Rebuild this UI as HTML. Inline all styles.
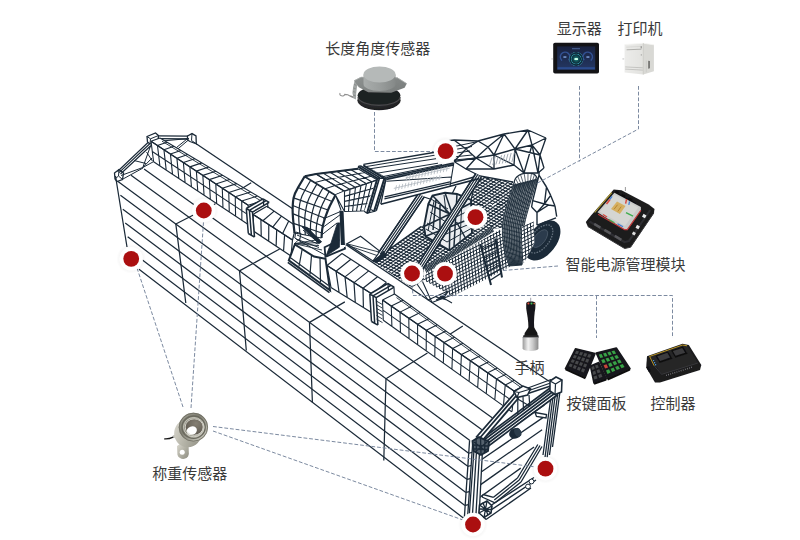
<!DOCTYPE html>
<html><head><meta charset="utf-8"><title>diagram</title>
<style>
html,body{margin:0;padding:0;background:#fff;}
body{width:800px;height:540px;overflow:hidden;font-family:"Liberation Sans",sans-serif;}
svg{display:block}
</style></head><body>
<svg width="800" height="540" viewBox="0 0 800 540" fill="none" stroke-linecap="butt" stroke-linejoin="miter">
<defs>
<radialGradient id="halo"><stop offset="0.75" stop-color="#000" stop-opacity="0.04"/><stop offset="1" stop-color="#000" stop-opacity="0"/></radialGradient>

<linearGradient id="gCyl" x1="0" x2="1" y1="0" y2="0"><stop offset="0" stop-color="#a9adac"/><stop offset="0.5" stop-color="#9a9e9d"/><stop offset="1" stop-color="#858988"/></linearGradient>
<linearGradient id="gFl" x1="0" x2="1" y1="0" y2="1"><stop offset="0" stop-color="#8d9190"/><stop offset="1" stop-color="#787c7b"/></linearGradient>
<radialGradient id="gBase" cx="0.45" cy="0.35" r="0.7"><stop offset="0" stop-color="#4a4b4d"/><stop offset="0.6" stop-color="#2a2b2d"/><stop offset="1" stop-color="#1a1a1c"/></radialGradient>
<linearGradient id="gScr" x1="0" x2="0" y1="0" y2="1"><stop offset="0" stop-color="#19223f"/><stop offset="1" stop-color="#243763"/></linearGradient>
<radialGradient id="gGauge"><stop offset="0" stop-color="#3fb59a"/><stop offset="0.3" stop-color="#155a60"/><stop offset="0.62" stop-color="#0d2f3c"/><stop offset="0.72" stop-color="#2f93a4"/><stop offset="0.8" stop-color="#0e2a3a"/><stop offset="0.93" stop-color="#123244"/><stop offset="1" stop-color="#3aa6b8"/></radialGradient>
<linearGradient id="gPrF" x1="0" x2="1" y1="0" y2="0"><stop offset="0" stop-color="#ececea"/><stop offset="1" stop-color="#e2e2df"/></linearGradient>
<linearGradient id="gSil" x1="0" x2="1" y1="0" y2="0"><stop offset="0" stop-color="#9b9b9b"/><stop offset="0.35" stop-color="#f2f2f2"/><stop offset="0.65" stop-color="#c9c9c9"/><stop offset="1" stop-color="#8a8a8a"/></linearGradient>
<linearGradient id="gRing" x1="0" x2="1" y1="0" y2="1"><stop offset="0" stop-color="#a3a296"/><stop offset="0.4" stop-color="#7f7e72"/><stop offset="0.75" stop-color="#b4b3a7"/><stop offset="1" stop-color="#d2d1c6"/></linearGradient>
<linearGradient id="gRingB" x1="0" x2="1" y1="0" y2="1"><stop offset="0" stop-color="#dedcd3"/><stop offset="0.5" stop-color="#b3b2a6"/><stop offset="1" stop-color="#8d8c80"/></linearGradient>
<radialGradient id="gHole" cx="0.6" cy="0.3" r="0.8"><stop offset="0" stop-color="#857f73"/><stop offset="1" stop-color="#5a554c"/></radialGradient>
<filter id="soft" x="-10%" y="-10%" width="120%" height="120%"><feGaussianBlur stdDeviation="0.35"/></filter>

</defs>
<path d="M118 181.5L469.6 440.2M120.42 195.33L468.67 453.25M122.83 209.17L467.73 466.3M125.25 223L466.8 479.35M127.67 236.83L465.87 492.4M139.46 257.8L464.93 505.45M139 269.3L464 518.5M115.5 176L127 247" stroke="#1b2a38" stroke-width="1.25" fill="none"/>
<path d="M175.8 223.8L185.8 303M239.5 270.8L246.3 350.5M309.5 323L312.4 402.4M386 377.9L383.8 460.5" stroke="#1b2a38" stroke-width="1.25" fill="none"/>
<path d="M131.03 175.22L483.67 430.93M144.07 168.93L497.73 421.67" stroke="#1b2a38" stroke-width="1.25" fill="none"/>
<path d="M175.8 224.03L215.41 203.71M239.5 270.9L279.67 248.95M309.5 322.4L344.85 301.84M386 378.69L427.46 353.02" stroke="#1b2a38" stroke-width="1.25" fill="none"/>
<path d="M196.2 143.8L293 208.95M346 244.62L549 381.23" stroke="#1b2a38" stroke-width="1.25" fill="none"/>
<path d="M240.7 189.2L251.2 182.8M447.2 336L462.8 325.9" stroke="#1b2a38" stroke-width="1.25" fill="none"/>
<path d="M117.5 171.5L148 142.5M120.5 174L151 145.5M119 172.7L149.5 144" stroke="#1b2a38" stroke-width="1.15" fill="none"/>
<path d="M114.5 173L119 169.5L123.5 173L122.5 179.5L117 181.5L115 179Z" stroke="#1b2a38" stroke-width="1.3" fill="none"/>
<path d="M119 169.5L118.5 176M118.5 176L122.5 179.5M118.5 176L115 179" stroke="#1b2a38" stroke-width="1.0" fill="none"/>
<path d="M147 136.5L155.5 133L158.5 135.5L158 141.5L150 144L147.5 142Z" stroke="#1b2a38" stroke-width="1.3" fill="none"/>
<path d="M147 136.5L150.5 138.8M150.5 138.8L158.5 135.5M150.5 138.8L150 144" stroke="#1b2a38" stroke-width="1.0" fill="none"/>
<path d="M158.5 135.9L188 136.2M158.5 138.7L188 139" stroke="#1b2a38" stroke-width="1.35" fill="none"/>
<path d="M187.5 136L192 133.6L196 136L196.3 143.8L190 141.5L187.5 140Z" stroke="#1b2a38" stroke-width="1.3" fill="none"/>
<path d="M192 133.6L191.5 140.5M191.5 140.5L196.3 143.8" stroke="#1b2a38" stroke-width="1.0" fill="none"/>
<path d="M189 139.5L178 148.8M187 139L176.5 147.5M162 141L189 138.5" stroke="#1b2a38" stroke-width="1.0" fill="none"/>
<path d="M121 175.5L142.8 167.5M123 179L143 168M142.8 167.5L150.5 146M142.8 167.5L152 158M146.5 152L152.5 161.2M142.8 167.5L153.8 161.5M134 160.5L146 163.5" stroke="#1b2a38" stroke-width="1.0" fill="none"/>
<path d="M160 138L264.5 200.2L248.2 205.2L248.2 224.5L153.6 161.8L151 141.3Z" stroke="none" stroke-width="0" fill="#fff"/>
<path d="M151 141.3L153.6 161.8M157.48 145.56L159.91 165.98M163.96 149.82L166.21 170.16M170.44 154.08L172.52 174.34M176.92 158.34L178.83 178.52M183.4 162.6L185.13 182.7M189.88 166.86L191.44 186.88M196.36 171.12L197.75 191.06M202.84 175.38L204.05 195.24M209.32 179.64L210.36 199.42M215.8 183.9L216.67 203.6M222.28 188.16L222.97 207.78M228.76 192.42L229.28 211.96M235.24 196.68L235.59 216.14M241.72 200.94L241.89 220.32M248.2 205.2L248.2 224.5M151 141.3L248.2 205.2M152.3 151.55L248.2 214.85M153.6 161.8L248.2 224.5" stroke="#1b2a38" stroke-width="1.1" fill="none"/>
<path d="M160 138L151 141.3M166.97 142.15L157.48 145.56M173.93 146.29L163.96 149.82M180.9 150.44L170.44 154.08M187.87 154.59L176.92 158.34M194.83 158.73L183.4 162.6M201.8 162.88L189.88 166.86M208.77 167.03L196.36 171.12M215.73 171.17L202.84 175.38M222.7 175.32L209.32 179.64M229.67 179.47L215.8 183.9M236.63 183.61L222.28 188.16M243.6 187.76L228.76 192.42M250.57 191.91L235.24 196.68M257.53 196.05L241.72 200.94M264.5 200.2L248.2 205.2M160 138L264.5 200.2M151 141.3L248.2 205.2" stroke="#1b2a38" stroke-width="1.1" fill="none"/>
<path d="M162 141.2L262 201.5" stroke="#1b2a38" stroke-width="0.9" fill="none"/>
<path d="M266.9 206.2L296 226L292.5 240L291 256L253.8 231.3L253 214.4Z" stroke="none" stroke-width="0" fill="#fff"/>
<path d="M253 214.4L253.8 231.3M260.9 219.52L261.24 236.24M268.8 224.64L268.68 241.18M276.7 229.76L276.12 246.12M284.6 234.88L283.56 251.06M292.5 240L291 256M253 214.4L292.5 240M253.8 231.3L291 256" stroke="#1b2a38" stroke-width="1.2" fill="none"/>
<path d="M266.9 206.2L253 214.4M274.17 211.15L262.88 220.8M281.45 216.1L272.75 227.2M288.73 221.05L282.62 233.6M296 226L292.5 240M266.9 206.2L296 226M253 214.4L292.5 240" stroke="#1b2a38" stroke-width="1.2" fill="none"/>
<path d="M248.3 233.5L246.3 208.5L263 198.8L269.2 202.4L252.5 212.1L254.5 237.1Z" stroke="none" stroke-width="0" fill="#fff"/>
<path d="M248.3 233.5L246.3 208.5M246.3 208.5L263 198.8M251.4 235.3L249.4 210.3M249.4 210.3L266.1 200.6M254.5 237.1L252.5 212.1M252.5 212.1L269.2 202.4M248.3 233.5L254.5 237.1M246.3 208.5L252.5 212.1M263 198.8L269.2 202.4" stroke="#1b2a38" stroke-width="1.5" fill="none"/>
<path d="M263.2 199L263.8 206M267.5 202.5L268 208" stroke="#1b2a38" stroke-width="1.2" fill="none"/>
<path d="M294.8 244.5L288.8 260.3L330 290.3L325.5 258.8L314 256.5Z" stroke="none" stroke-width="0" fill="#fff"/>
<path d="M294.8 244.5L288.8 260.3L330 290.3L325.5 258.8L314 256.5Z" stroke="#1b2a38" stroke-width="2.0" fill="none"/>
<path d="M287.8 262.3L329.5 292.6" stroke="#1b2a38" stroke-width="1.6" fill="none"/>
<path d="M290.5 257.8L328.5 285.6" stroke="#1b2a38" stroke-width="1.2" fill="none"/>
<path d="M302 250L299 266.5M311.5 255.5L310 274.5M320 258L320.5 282" stroke="#1b2a38" stroke-width="1.2" fill="none"/>
<path d="M342 253.5L386.5 282.5L372 294L371.5 312.5L331 287.5L327 265.5Z" stroke="none" stroke-width="0" fill="#fff"/>
<path d="M327 265.5L331 287.5M336 271.2L339.1 292.5M345 276.9L347.2 297.5M354 282.6L355.3 302.5M363 288.3L363.4 307.5M372 294L371.5 312.5M327 265.5L372 294M331 287.5L371.5 312.5" stroke="#1b2a38" stroke-width="1.2" fill="none"/>
<path d="M342 253.5L327 265.5M350.9 259.3L336 271.2M359.8 265.1L345 276.9M368.7 270.9L354 282.6M377.6 276.7L363 288.3M386.5 282.5L372 294M342 253.5L386.5 282.5M327 265.5L372 294" stroke="#1b2a38" stroke-width="1.2" fill="none"/>
<path d="M371.5 321.5L369.8 294L387.8 283.5L394.2 287.1L376.2 297.6L377.9 325.1Z" stroke="none" stroke-width="0" fill="#fff"/>
<path d="M371.5 321.5L369.8 294M369.8 294L387.8 283.5M374.7 323.3L373 295.8M373 295.8L391 285.3M377.9 325.1L376.2 297.6M376.2 297.6L394.2 287.1M371.5 321.5L377.9 325.1M369.8 294L376.2 297.6M387.8 283.5L394.2 287.1" stroke="#1b2a38" stroke-width="1.5" fill="none"/>
<path d="M388 284L388.5 291M394 287.5L394.3 294" stroke="#1b2a38" stroke-width="1.2" fill="none"/>
<path d="M376.5 301.1L382.5 304.6M376.5 304.7L382.5 308.2M376.5 308.3L382.5 311.8M376.5 311.9L382.5 315.4M376.5 315.5L382.5 319M376.5 319.1L382.5 322.6" stroke="#1b2a38" stroke-width="0.9" fill="none"/>
<path d="M394.5 294L523 386.5L514 391L512 412L383.3 320.3L382.5 300Z" stroke="none" stroke-width="0" fill="#fff"/>
<path d="M382.5 300L383.3 320.3M391.27 306.07L391.88 326.41M400.03 312.13L400.46 332.53M408.8 318.2L409.04 338.64M417.57 324.27L417.62 344.75M426.33 330.33L426.2 350.87M435.1 336.4L434.78 356.98M443.87 342.47L443.36 363.09M452.63 348.53L451.94 369.21M461.4 354.6L460.52 375.32M470.17 360.67L469.1 381.43M478.93 366.73L477.68 387.55M487.7 372.8L486.26 393.66M496.47 378.87L494.84 399.77M505.23 384.93L503.42 405.89M514 391L512 412M382.5 300L514 391M382.9 310.15L513 401.5M383.3 320.3L512 412" stroke="#1b2a38" stroke-width="1.1" fill="none"/>
<path d="M394.5 294L382.5 300M403.07 300.17L391.27 306.07M411.63 306.33L400.03 312.13M420.2 312.5L408.8 318.2M428.77 318.67L417.57 324.27M437.33 324.83L426.33 330.33M445.9 331L435.1 336.4M454.47 337.17L443.87 342.47M463.03 343.33L452.63 348.53M471.6 349.5L461.4 354.6M480.17 355.67L470.17 360.67M488.73 361.83L478.93 366.73M497.3 368L487.7 372.8M505.87 374.17L496.47 378.87M514.43 380.33L505.23 384.93M523 386.5L514 391M394.5 294L523 386.5M382.5 300L514 391" stroke="#1b2a38" stroke-width="1.1" fill="none"/>
<path d="M396.5 297.6L522.5 388.6" stroke="#1b2a38" stroke-width="0.9" fill="none"/>
<path d="M481.49 447.53L544.4 405.01M480.61 460.31L543.25 417.38M479.74 473.08L542.11 429.75M478.87 485.85L534.07 446.97M477.99 498.63L520.74 468.11" stroke="#1b2a38" stroke-width="1.32" fill="none"/>
<path d="M469.6 440.2L464.3 518.5M472.8 441.5L467.6 517" stroke="#1b2a38" stroke-width="1.32" fill="none"/>
<path d="M468.72 453.25L472.02 452.45M467.83 466.3L471.13 465.5M466.95 479.35L470.25 478.55M466.07 492.4L469.37 491.6M465.18 505.45L468.48 504.65" stroke="#1b2a38" stroke-width="1.2" fill="none"/>
<path d="M474 449L482.5 453L479.5 514L469.5 514Z" stroke="none" stroke-width="0" fill="#fff"/>
<path d="M474 450L469.3 514.5M482.3 454L479.2 513.5M476.5 451L472.5 514M479.5 452.5L476 514" stroke="#1b2a38" stroke-width="1.32" fill="none"/>
<path d="M551.5 393L543 455M553.5 393L545 457.5M555.5 393L547 458.5M557.8 393L549.5 455M560 391.5L552.5 447" stroke="#1b2a38" stroke-width="1.32" fill="none"/>
<path d="M482 498L495 503L521 482L542 446L537.5 444L517 478L493.5 497L483 495Z" stroke="none" stroke-width="0" fill="#fff"/>
<path d="M482 497L495 502.8M495 502.8L521 482M521 482L542 446.5M483 494.5L493.5 497.3M493.5 497.3L517.5 478M517.5 478L537.8 444.5M494.3 500L519.2 480M519.2 480L540 445.5M482 497L483 494.5" stroke="#1b2a38" stroke-width="1.32" fill="none"/>
<path d="M480 512.5L534 477.5M482 516L536 480M486 519.5L531 488M480 512.5L486 519.5" stroke="#1b2a38" stroke-width="1.32" fill="none"/>
<circle cx="531.5" cy="481.5" r="2.4" stroke="#1b2a38" stroke-width="1" fill="#fff"/>
<circle cx="528" cy="486.5" r="2.4" stroke="#1b2a38" stroke-width="1" fill="#fff"/>
<path d="M482 503L490 509M484 507L488 512M488 503.5L483.5 510" stroke="#1b2a38" stroke-width="1.2" fill="none"/>
<path d="M479.5 505L487 501L492 506L491 513L484 517.5L479 513Z" stroke="#1b2a38" stroke-width="1.56" fill="#fff"/>
<path d="M479.5 505L491 513M487 501L484 517.5M479 513L492 506M483 503L488 515M480 509L491.5 509.5" stroke="#1b2a38" stroke-width="1.32" fill="none"/>
<path d="M476 439L487 446L560 392L553 381Z" stroke="none" stroke-width="0" fill="#fff"/>
<path d="M484 440L553.5 388M485.5 442L555 390M487 444L556.5 392M488.5 446L558 394.5M482.5 438.5L552 386.5" stroke="#1b2a38" stroke-width="1.62" fill="none"/>
<path d="M513 394L519 398.5L481 442L475 437.5Z" stroke="none" stroke-width="0" fill="#fff"/>
<path d="M514 394L476 437.5M516 396L478.5 439.5M518.5 398L481.5 441.5" stroke="#1b2a38" stroke-width="1.7999999999999998" fill="none"/>
<path d="M526.5 388.5L551 379.5M527.5 391L552 382.5M528 393.5L552 385.5" stroke="#1b2a38" stroke-width="1.32" fill="none"/>
<path d="M514 391.5L523 386L530.5 389L527.5 395L517 397.5Z" stroke="none" stroke-width="0" fill="#fff"/>
<path d="M514 391.5L523 386L530.5 389L527.5 395L517 397.5Z" stroke="#1b2a38" stroke-width="1.56" fill="none"/>
<path d="M517 397.5L519 392.5M519 392.5L530.5 389M519 392.5L514 391.5" stroke="#1b2a38" stroke-width="1.2" fill="none"/>
<path d="M517.8 397.5L517.8 414.5M529 395L529.8 406.5M517.8 399L529.5 406M523 396.5L523.5 410.5" stroke="#1b2a38" stroke-width="1.2" fill="none"/>
<path d="M550 381L556 377L562 380L561.5 392L555 394.5L550 391Z" stroke="none" stroke-width="0" fill="#fff"/>
<path d="M550 381L556 377L562 380L561.5 392L555 394.5L550 391Z" stroke="#1b2a38" stroke-width="1.56" fill="none"/>
<path d="M550 381L555.5 384M555.5 384L562 380M555.5 384L555 394.5" stroke="#1b2a38" stroke-width="1.2" fill="none"/>
<path d="M472.5 441L479 437L489 441.5L488 451L481 455L473.5 451Z" stroke="none" stroke-width="0" fill="#fff"/>
<path d="M472.5 441L479 437L489 441.5L488 451L481 455L473.5 451Z" stroke="#1b2a38" stroke-width="1.92" fill="#55626e"/>
<path d="M473 445L488.5 446M476 438.5L476.5 453M480.5 437.5L481 455M485 440L484.5 453M473.5 449L488 449.5M474 442L487 452M487 442L475 452" stroke="#1b2a38" stroke-width="1.32" fill="none"/>
<path d="M535 412.5L546.5 414.5L546 418L536.5 416.5Z" stroke="#1b2a38" stroke-width="1.32" fill="#fff"/>
<ellipse cx="515.2" cy="433.4" rx="6.2" ry="5.2" fill="#1b2a38" stroke="none" transform="rotate(-25 515.2 433.4)"/>
<ellipse cx="517.8" cy="432.3" rx="3.3" ry="4.6" fill="#2c3d4c" stroke="none" transform="rotate(-25 517.8 432.3)"/>
<path d="M346.9 243.8L360.6 236.3L380 251.3L373 261Z" stroke="#1b2a38" stroke-width="1.2" fill="#fff"/>
<path d="M346.9 243.8L379 252M348 245.5L377 255.5" stroke="#1b2a38" stroke-width="0.9" fill="none"/>
<clipPath id="hc1"><path d="M372.5 261.3L421 226.5L470 203L480 176L513 182L516 226L492 229L424 270L423.8 280L412 287.5Z"/></clipPath>
<path d="M372.5 261.3L421 226.5L470 203L480 176L513 182L516 226L492 229L424 270L423.8 280L412 287.5Z" fill="#fff" stroke="none"/>
<path d="M312.97 208.35L463.69 99.83M314.66 210.7L465.39 102.18M316.36 213.05L467.08 104.53M318.05 215.41L468.78 106.89M319.75 217.76L470.47 109.24M321.44 220.11L472.17 111.59M323.14 222.47L473.86 113.95M324.83 224.82L475.56 116.3M326.53 227.17L477.25 118.65M328.22 229.53L478.94 121.01M329.92 231.88L480.64 123.36M331.61 234.23L482.33 125.71M333.3 236.59L484.03 128.07M335 238.94L485.72 130.42M336.69 241.29L487.42 132.77M338.39 243.65L489.11 135.13M340.08 246L490.81 137.48M341.78 248.36L492.5 139.83M343.47 250.71L494.19 142.19M345.17 253.06L495.89 144.54M346.86 255.42L497.58 146.89M348.55 257.77L499.28 149.25M350.25 260.12L500.97 151.6M351.94 262.48L502.67 153.96M353.64 264.83L504.36 156.31M355.33 267.18L506.06 158.66M357.03 269.54L507.75 161.02M358.72 271.89L509.44 163.37M360.42 274.24L511.14 165.72M362.11 276.6L512.83 168.08M363.8 278.95L514.53 170.43M365.5 281.3L516.22 172.78M367.19 283.66L517.92 175.14M368.89 286.01L519.61 177.49M370.58 288.36L521.31 179.84M372.28 290.72L523 182.2M373.97 293.07L524.7 184.55M375.67 295.42L526.39 186.9M377.36 297.78L528.08 189.26M379.06 300.13L529.78 191.61M380.75 302.48L531.47 193.96M382.44 304.84L533.17 196.32M384.14 307.19L534.86 198.67M385.83 309.54L536.56 201.02M387.53 311.9L538.25 203.38M389.22 314.25L539.95 205.73M390.92 316.61L541.64 208.08M392.61 318.96L543.33 210.44M394.31 321.31L545.03 212.79M396 323.67L546.72 215.14M397.69 326.02L548.42 217.5M399.39 328.37L550.11 219.85M401.08 330.73L551.81 222.21M402.78 333.08L553.5 224.56M404.47 335.43L555.2 226.91M406.17 337.79L556.89 229.27M407.86 340.14L558.58 231.62M409.56 342.49L560.28 233.97M411.25 344.85L561.97 236.33M412.94 347.2L563.67 238.68M414.64 349.55L565.36 241.03M416.33 351.91L567.06 243.39M418.03 354.26L568.75 245.74M419.72 356.61L570.45 248.09M421.42 358.97L572.14 250.45M423.11 361.32L573.84 252.8M424.81 363.67L575.53 255.15M403.99 104.62L570.11 187.68M402.69 107.22L568.81 190.28M401.4 109.81L567.51 192.87M400.1 112.41L566.22 195.46M398.8 115L564.92 198.06M397.5 117.59L563.62 200.65M396.21 120.19L562.33 203.25M394.91 122.78L561.03 205.84M393.61 125.37L559.73 208.43M392.32 127.97L558.44 211.03M391.02 130.56L557.14 213.62M389.72 133.16L555.84 216.22M388.43 135.75L554.54 218.81M387.13 138.34L553.25 221.4M385.83 140.94L551.95 224M384.54 143.53L550.65 226.59M383.24 146.13L549.36 229.18M381.94 148.72L548.06 231.78M380.64 151.31L546.76 234.37M379.35 153.91L545.47 236.97M378.05 156.5L544.17 239.56M376.75 159.09L542.87 242.15M375.46 161.69L541.58 244.75M374.16 164.28L540.28 247.34M372.86 166.88L538.98 249.94M371.57 169.47L537.68 252.53M370.27 172.06L536.39 255.12M368.97 174.66L535.09 257.72M367.68 177.25L533.79 260.31M366.38 179.84L532.5 262.9M365.08 182.44L531.2 265.5M363.78 185.03L529.9 268.09M362.49 187.63L528.61 270.69M361.19 190.22L527.31 273.28M359.89 192.81L526.01 275.87M358.6 195.41L524.72 278.47M357.3 198L523.42 281.06M356 200.6L522.12 283.66M354.71 203.19L520.82 286.25M353.41 205.78L519.53 288.84M352.11 208.38L518.23 291.44M350.82 210.97L516.93 294.03M349.52 213.56L515.64 296.62M348.22 216.16L514.34 299.22M346.92 218.75L513.04 301.81M345.63 221.35L511.75 304.41M344.33 223.94L510.45 307M343.03 226.53L509.15 309.59M341.74 229.13L507.86 312.19M340.44 231.72L506.56 314.78M339.14 234.32L505.26 317.37M337.85 236.91L503.96 319.97M336.55 239.5L502.67 322.56M335.25 242.1L501.37 325.16M333.96 244.69L500.07 327.75M332.66 247.28L498.78 330.34M331.36 249.88L497.48 332.94M330.06 252.47L496.18 335.53M328.77 255.07L494.89 338.13M327.47 257.66L493.59 340.72M326.17 260.25L492.29 343.31M324.88 262.85L491 345.91M323.58 265.44L489.7 348.5M322.28 268.04L488.4 351.09M320.99 270.63L487.1 353.69M319.69 273.22L485.81 356.28M318.39 275.82L484.51 358.88" stroke="#1b2a38" stroke-width="1.1" fill="none" clip-path="url(#hc1)"/>
<path d="M372.5 261.3L421 226.5" stroke="#1b2a38" stroke-width="1.2" fill="none"/>
<path d="M428.3 204L432.5 195.5L445 192.7L457 194L471 200L472 233L449.4 250.4L425.5 236.3L424 226.5Z" stroke="none" stroke-width="0" fill="#eceef1"/>
<path d="M428.3 204L432.5 195.5L445 192.7L457 194L471 200L472 233L449.4 250.4L425.5 236.3L424 226.5Z" stroke="#1b2a38" stroke-width="1.9" fill="none"/>
<path d="M432.5 195.5L450 214M445 192.7L452 213M428.3 204L450 214M450 214L449.4 250.4M424 226.5L450 214M450 214L471 203M456.5 222L466 239M425.5 236.3L447 228M447 228L472 218M436 199L433 230M440 205L440 244M457 194L454 246" stroke="#1b2a38" stroke-width="1.5" fill="none"/>
<path d="M430 212L446 222M446 222L470 210M427 223L446 234M446 234L472 223M426 229L447 242M447 242L472 228M462 198L460 242M434 201L428 231M444 195L446 212M431 199L448 209" stroke="#1b2a38" stroke-width="1.0" fill="none"/>
<path d="M430 199L421 196M452 194L456 186M471 200L476 180M480 176L513 182M466 169L480 176" stroke="#1b2a38" stroke-width="1.3" fill="none"/>
<clipPath id="hc2"><path d="M424 267.5L492 227L494 231.5L426.5 273Z"/></clipPath>
<path d="M424 267.5L492 227L494 231.5L426.5 273Z" fill="#fff" stroke="none"/>
<path d="M398.63 234.68L473.89 189.52M399.3 235.79L474.56 190.64M399.97 236.9L475.22 191.75M400.64 238.02L475.89 192.87M401.31 239.13L476.56 193.98M401.98 240.25L477.23 195.1M402.64 241.36L477.9 196.21M403.31 242.48L478.57 197.33M403.98 243.59L479.24 198.44M404.65 244.71L479.91 199.56M405.32 245.82L480.58 200.67M405.99 246.94L481.24 201.78M406.66 248.05L481.91 202.9M407.33 249.17L482.58 204.01M408 250.28L483.25 205.13M408.66 251.4L483.92 206.24M409.33 252.51L484.59 207.36M410 253.63L485.26 208.47M410.67 254.74L485.93 209.59M411.34 255.86L486.59 210.7M412.01 256.97L487.26 211.82M412.68 258.08L487.93 212.93M413.35 259.2L488.6 214.05M414.02 260.31L489.27 215.16M414.68 261.43L489.94 216.28M415.35 262.54L490.61 217.39M416.02 263.66L491.28 218.51M416.69 264.77L491.95 219.62M417.36 265.89L492.61 220.74M418.03 267L493.28 221.85M418.7 268.12L493.95 222.96M419.37 269.23L494.62 224.08M420.03 270.35L495.29 225.19M420.7 271.46L495.96 226.31M421.37 272.58L496.63 227.42M422.04 273.69L497.3 228.54M422.71 274.81L497.97 229.65M423.38 275.92L498.63 230.77M424.05 277.04L499.3 231.88M424.72 278.15L499.97 233M425.39 279.26L500.64 234.11M426.05 280.38L501.31 235.23M426.72 281.49L501.98 236.34M427.39 282.61L502.65 237.46M428.06 283.72L503.32 238.57M428.73 284.84L503.98 239.69M429.4 285.95L504.65 240.8M430.07 287.07L505.32 241.92M430.74 288.18L505.99 243.03M431.41 289.3L506.66 244.14M432.07 290.41L507.33 245.26M432.74 291.53L508 246.37M433.41 292.64L508.67 247.49M434.08 293.76L509.34 248.6M434.75 294.87L510 249.72M435.42 295.99L510.67 250.83M436.09 297.1L511.34 251.95M436.76 298.22L512.01 253.06M437.42 299.33L512.68 254.18M438.09 300.44L513.35 255.29M438.76 301.56L514.02 256.41M439.43 302.67L514.69 257.52M440.1 303.79L515.36 258.64M440.77 304.9L516.02 259.75M441.44 306.02L516.69 260.87M442.11 307.13L517.36 261.98M442.78 308.25L518.03 263.1M443.44 309.36L518.7 264.21M444.11 310.48L519.37 265.32M479.63 190.63L518.87 269.12M478.28 191.3L517.53 269.79M476.94 191.97L516.19 270.47M475.6 192.64L514.85 271.14M474.26 193.31L513.51 271.81M472.92 193.98L512.17 272.48M471.58 194.65L510.82 273.15M470.23 195.32L509.48 273.82M468.89 195.99L508.14 274.49M467.55 196.66L506.8 275.16M466.21 197.34L505.46 275.83M464.87 198.01L504.12 276.5M463.53 198.68L502.77 277.17M462.18 199.35L501.43 277.84M460.84 200.02L500.09 278.52M459.5 200.69L498.75 279.19M458.16 201.36L497.41 279.86M456.82 202.03L496.07 280.53M455.48 202.7L494.72 281.2M454.13 203.37L493.38 281.87M452.79 204.04L492.04 282.54M451.45 204.71L490.7 283.21M450.11 205.39L489.36 283.88M448.77 206.06L488.02 284.55M447.43 206.73L486.67 285.22M446.08 207.4L485.33 285.89M444.74 208.07L483.99 286.56M443.4 208.74L482.65 287.24M442.06 209.41L481.31 287.91M440.72 210.08L479.97 288.58M439.38 210.75L478.62 289.25M438.03 211.42L477.28 289.92M436.69 212.09L475.94 290.59M435.35 212.76L474.6 291.26M434.01 213.44L473.26 291.93M432.67 214.11L471.92 292.6M431.33 214.78L470.57 293.27M429.98 215.45L469.23 293.94M428.64 216.12L467.89 294.61M427.3 216.79L466.55 295.29M425.96 217.46L465.21 295.96M424.62 218.13L463.87 296.63M423.28 218.8L462.52 297.3M421.93 219.47L461.18 297.97M420.59 220.14L459.84 298.64M419.25 220.81L458.5 299.31M417.91 221.48L457.16 299.98M416.57 222.16L455.82 300.65M415.23 222.83L454.47 301.32M413.88 223.5L453.13 301.99M412.54 224.17L451.79 302.66M411.2 224.84L450.45 303.34M409.86 225.51L449.11 304.01M408.52 226.18L447.77 304.68M407.18 226.85L446.42 305.35M405.83 227.52L445.08 306.02M404.49 228.19L443.74 306.69M403.15 228.86L442.4 307.36M401.81 229.53L441.06 308.03M400.47 230.21L439.72 308.7M399.13 230.88L438.37 309.37" stroke="#1b2a38" stroke-width="0.9" fill="none" clip-path="url(#hc2)"/>
<path d="M539 171L539 175.2L546.5 187L550.7 195.4L555 206L556.7 216.7L556 217.8L537 225.2L537 212.4L531.6 207L532.7 200.7Z" stroke="none" stroke-width="0" fill="#fff"/>
<path d="M539 171L539 175.2M539 175.2L546.5 187M546.5 187L550.7 195.4M550.7 195.4L555 206M555 206L556.7 216.7M539 175.2L532.7 200.7M532.7 200.7L544.4 204M544.4 204L550.7 195.4M531.6 207L537 212.4M537 212.4L537 225.2M537 212.4L548.6 205M548.6 205L555 206M537 225.2L556 217.8M532.7 200.7L531.6 207M544.4 204L548.6 205M546.5 187L544.4 204M537 212.4L544.4 204" stroke="#1b2a38" stroke-width="1.4" fill="none"/>
<g transform="rotate(-52 542.5 240.5)"><ellipse cx="542.5" cy="240.5" rx="23" ry="14" fill="#1b2a38"/><ellipse cx="542.5" cy="238" rx="16.5" ry="8.8" fill="none" stroke="#66737f" stroke-width="1.3" stroke-dasharray="1.5 1.2"/><ellipse cx="542.5" cy="237.4" rx="10.5" ry="5.2" fill="#2b3b4c" stroke="#4a5968" stroke-width="0.8"/></g>
<clipPath id="hc3"><path d="M426.5 273L500 229.5L508 256L519 262L452.5 296.3L423.8 280Z"/></clipPath>
<path d="M426.5 273L500 229.5L508 256L519 262L452.5 296.3L423.8 280Z" fill="#fff" stroke="none"/>
<path d="M389.87 234.35L497.47 180.55M391.26 237.12L498.86 183.32M392.65 239.89L500.24 186.09M394.03 242.66L501.63 188.86M395.42 245.44L503.02 191.64M396.81 248.21L504.4 194.41M398.19 250.98L505.79 197.18M399.58 253.75L507.18 199.96M400.96 256.53L508.56 202.73M402.35 259.3L509.95 205.5M403.74 262.07L511.34 208.27M405.12 264.84L512.72 211.05M406.51 267.62L514.11 213.82M407.9 270.39L515.49 216.59M409.28 273.16L516.88 219.36M410.67 275.94L518.27 222.14M412.06 278.71L519.65 224.91M413.44 281.48L521.04 227.68M414.83 284.25L522.43 230.46M416.21 287.03L523.81 233.23M417.6 289.8L525.2 236M418.99 292.57L526.59 238.77M420.37 295.34L527.97 241.55M421.76 298.12L529.36 244.32M423.15 300.89L530.74 247.09M424.53 303.66L532.13 249.86M425.92 306.44L533.52 252.64M427.31 309.21L534.9 255.41M428.69 311.98L536.29 258.18M430.08 314.75L537.68 260.96M431.46 317.53L539.06 263.73M432.85 320.3L540.45 266.5M434.24 323.07L541.84 269.27M435.62 325.84L543.22 272.05M437.01 328.62L544.61 274.82M438.4 331.39L545.99 277.59M439.78 334.16L547.38 280.36M441.17 336.94L548.77 283.14M442.56 339.71L550.15 285.91M443.94 342.48L551.54 288.68M445.33 345.25L552.93 291.45M527.11 196.88L539.08 316.58M524.02 197.19L535.99 316.89M520.94 197.5L532.91 317.2M517.85 197.81L529.82 317.51M514.77 198.11L526.74 317.82M511.68 198.42L523.65 318.12M508.6 198.73L520.57 318.43M505.51 199.04L517.49 318.74M502.43 199.35L514.4 319.05M499.35 199.66L511.32 319.36M496.26 199.96L508.23 319.67M493.18 200.27L505.15 319.97M490.09 200.58L502.06 320.28M487.01 200.89L498.98 320.59M483.92 201.2L495.89 320.9M480.84 201.51L492.81 321.21M477.75 201.82L489.72 321.52M474.67 202.12L486.64 321.83M471.58 202.43L483.55 322.13M468.5 202.74L480.47 322.44M465.41 203.05L477.39 322.75M462.33 203.36L474.3 323.06M459.25 203.67L471.22 323.37M456.16 203.97L468.13 323.68M453.08 204.28L465.05 323.98M449.99 204.59L461.96 324.29M446.91 204.9L458.88 324.6M443.82 205.21L455.79 324.91M440.74 205.52L452.71 325.22M437.65 205.83L449.62 325.53M434.57 206.13L446.54 325.84M431.48 206.44L443.45 326.14M428.4 206.75L440.37 326.45M425.31 207.06L437.29 326.76M422.23 207.37L434.2 327.07M419.15 207.68L431.12 327.38M416.06 207.98L428.03 327.69M412.98 208.29L424.95 327.99M409.89 208.6L421.86 328.3M406.81 208.91L418.78 328.61M403.72 209.22L415.69 328.92" stroke="#1b2a38" stroke-width="1.0" fill="none" clip-path="url(#hc3)"/>
<path d="M513.5 185L512.98 186.45L512.29 188.34L511.45 190.6L510.53 193.12L509.58 195.82L508.64 198.59L507.76 201.35L507 204L506.3 206.61L505.59 209.29L504.9 212.03L504.25 214.81L503.66 217.62L503.16 220.43L502.76 223.23L502.5 226L502.38 228.78L502.37 231.59L502.47 234.43L502.66 237.25L502.92 240.04L503.24 242.78L503.6 245.44L504 248L504.49 250.56L505.12 253.2L505.84 255.83L506.59 258.38L507.34 260.74L508.02 262.86L508.59 264.64L509 266L522 265L522.03 263.55L522.05 261.66L522.08 259.4L522.12 256.88L522.18 254.18L522.26 251.41L522.36 248.65L522.5 246L522.65 243.41L522.79 240.76L522.94 238.06L523.12 235.31L523.35 232.53L523.65 229.71L524.02 226.87L524.5 224L525.1 221.08L525.81 218.07L526.61 215.01L527.47 211.94L528.36 208.87L529.27 205.84L530.16 202.87L531 200L531.86 197.09L532.78 194.05L533.72 190.98L534.66 188L535.54 185.21L536.33 182.7L537 180.6L537.5 179L537.5 179L537.29 178.63L537.04 178.12L536.75 177.51L536.41 176.84L536.01 176.17L535.57 175.52L535.06 174.95L534.5 174.5L533.86 174.15L533.14 173.84L532.36 173.59L531.53 173.38L530.66 173.21L529.78 173.09L528.88 173.02L528 173L527.09 173.03L526.14 173.11L525.15 173.23L524.16 173.41L523.17 173.62L522.22 173.88L521.32 174.17L520.5 174.5L519.73 174.86L519 175.27L518.31 175.71L517.66 176.19L517.05 176.71L516.48 177.27L515.96 177.86L515.5 178.5L515.09 179.24L514.74 180.1L514.44 181.04L514.19 182L513.97 182.93L513.79 183.77L513.63 184.48L513.5 185Z" stroke="none" stroke-width="0" fill="#fff"/>
<path d="M513.5 185L512.57 187.58L511.27 191.11L509.77 195.28L508.29 199.7L507 204L505.88 208.22L504.77 212.59L503.78 217.06L503 221.55L502.5 226L502.37 230.47L502.51 234.99L502.87 239.48L503.38 243.85L504 248L504.87 252.15L505.99 256.34L507.19 260.27L508.25 263.57L509 266" stroke="#1b2a38" stroke-width="0.9" fill="none"/>
<path d="M515.5 184.5L514.57 187.11L513.27 190.66L511.78 194.87L510.3 199.33L509 203.67L507.86 207.92L506.72 212.33L505.69 216.84L504.88 221.36L504.33 225.83L504.16 230.31L504.24 234.83L504.54 239.32L505 243.68L505.54 247.83L506.32 251.99L507.34 256.21L508.43 260.16L509.4 263.47L510.08 265.92" stroke="#1b2a38" stroke-width="0.9" fill="none"/>
<path d="M517.5 184L516.57 186.63L515.28 190.22L513.79 194.47L512.31 198.96L511 203.33L509.83 207.62L508.67 212.07L507.61 216.61L506.75 221.17L506.17 225.67L505.94 230.15L505.97 234.67L506.22 239.16L506.61 243.51L507.08 247.67L507.77 251.84L508.69 256.07L509.67 260.04L510.55 263.38L511.17 265.83" stroke="#1b2a38" stroke-width="0.9" fill="none"/>
<path d="M519.5 183.5L518.57 186.15L517.29 189.77L515.8 194.06L514.32 198.59L513 203L511.81 207.32L510.63 211.81L509.53 216.39L508.63 220.98L508 225.5L507.73 229.99L507.71 234.51L507.89 238.99L508.22 243.34L508.62 247.5L509.23 251.69L510.03 255.94L510.91 259.93L511.7 263.28L512.25 265.75" stroke="#1b2a38" stroke-width="0.9" fill="none"/>
<path d="M521.5 183L520.58 185.68L519.3 189.33L517.81 193.65L516.33 198.22L515 202.67L513.79 207.03L512.58 211.55L511.45 216.17L510.51 220.79L509.83 225.33L509.52 229.84L509.44 234.36L509.57 238.83L509.83 243.17L510.17 247.33L510.68 251.53L511.38 255.8L512.16 259.81L512.85 263.19L513.33 265.67" stroke="#1b2a38" stroke-width="0.9" fill="none"/>
<path d="M523.5 182.5L522.58 185.2L521.31 188.88L519.83 193.24L518.34 197.85L517 202.33L515.77 206.73L514.53 211.29L513.36 215.95L512.38 220.6L511.67 225.17L511.3 229.68L511.17 234.2L511.25 238.66L511.45 243L511.71 247.17L512.13 251.38L512.73 255.67L513.4 259.7L514 263.09L514.42 265.58" stroke="#1b2a38" stroke-width="0.9" fill="none"/>
<path d="M525.5 182L524.58 184.72L523.31 188.44L521.84 192.83L520.35 197.48L519 202L517.75 206.43L516.48 211.03L515.28 215.73L514.26 220.41L513.5 225L513.09 229.52L512.91 234.04L512.92 238.5L513.06 242.83L513.25 247L513.58 251.23L514.08 255.53L514.64 259.58L515.15 262.99L515.5 265.5" stroke="#1b2a38" stroke-width="0.9" fill="none"/>
<path d="M527.5 181.5L526.58 184.25L525.32 187.99L523.85 192.43L522.36 197.11L521 201.67L519.73 206.14L518.43 210.78L517.2 215.51L516.14 220.22L515.33 224.83L514.87 229.36L514.64 233.88L514.6 238.33L514.67 242.66L514.79 246.83L515.04 251.07L515.43 255.4L515.88 259.47L516.3 262.9L516.58 265.42" stroke="#1b2a38" stroke-width="0.9" fill="none"/>
<path d="M529.5 181L528.59 183.77L527.33 187.54L525.86 192.02L524.37 196.74L523 201.33L521.71 205.84L520.38 210.52L519.11 215.29L518.02 220.03L517.17 224.67L516.66 229.2L516.37 233.72L516.27 238.17L516.28 242.49L516.33 246.67L516.49 250.92L516.78 255.26L517.12 259.35L517.45 262.8L517.67 265.33" stroke="#1b2a38" stroke-width="0.9" fill="none"/>
<path d="M531.5 180.5L530.59 183.29L529.34 187.1L527.87 191.61L526.38 196.37L525 201L523.69 205.54L522.33 210.26L521.03 215.06L519.89 219.84L519 224.5L518.44 229.05L518.11 233.56L517.95 238L517.9 242.32L517.88 246.5L517.94 250.76L518.12 255.12L518.37 259.24L518.6 262.7L518.75 265.25" stroke="#1b2a38" stroke-width="0.9" fill="none"/>
<path d="M533.5 180L532.59 182.82L531.35 186.65L529.89 191.2L528.39 196L527 200.67L525.67 205.24L524.28 210L522.95 214.84L521.77 219.65L520.83 224.33L520.23 228.89L519.84 233.4L519.63 237.84L519.51 242.16L519.42 246.33L519.39 250.61L519.47 254.99L519.61 259.12L519.74 262.61L519.83 265.17" stroke="#1b2a38" stroke-width="0.9" fill="none"/>
<path d="M535.5 179.5L534.6 182.34L533.35 186.21L531.9 190.79L530.4 195.63L529 200.33L527.65 204.95L526.23 209.74L524.86 214.62L523.65 219.46L522.67 224.17L522.01 228.73L521.58 233.24L521.3 237.67L521.12 241.99L520.96 246.17L520.85 250.46L520.82 254.85L520.85 259.01L520.89 262.51L520.92 265.08" stroke="#1b2a38" stroke-width="0.9" fill="none"/>
<path d="M537.5 179L536.6 181.86L535.36 185.76L533.91 190.39L532.41 195.26L531 200L529.62 204.65L528.19 209.48L526.78 214.4L525.52 219.27L524.5 224L523.8 228.57L523.31 233.09L522.98 237.51L522.73 241.82L522.5 246L522.3 250.3L522.17 254.72L522.09 258.89L522.04 262.42L522 265" stroke="#1b2a38" stroke-width="0.9" fill="none"/>
<path d="M513.5 185L537.5 179M513.26 185.68L537.26 179.75M513.02 186.36L537.03 180.51M512.7 187.23L536.72 181.47M512.37 188.12L536.41 182.46M511.99 189.14L536.05 183.59M511.6 190.2L535.68 184.76M511.18 191.34L535.28 186.03M510.75 192.53L534.86 187.34M510.31 193.76L534.44 188.7M509.86 195.03L534 190.11M509.41 196.31L533.56 191.52M508.97 197.61L533.11 192.97M508.53 198.92L532.67 194.4M508.12 200.22L532.24 195.84M507.72 201.51L531.81 197.26M507.36 202.75L531.4 198.63M507 204L531 200M506.67 205.23L530.6 201.35M506.34 206.45L530.21 202.7M506.01 207.71L529.79 204.09M505.68 208.97L529.37 205.49M505.35 210.26L528.95 206.91M505.02 211.55L528.52 208.33M504.71 212.85L528.1 209.77M504.4 214.16L527.68 211.22M504.11 215.47L527.27 212.66M503.83 216.79L526.86 214.11M503.57 218.11L526.47 215.55M503.33 219.44L526.09 216.99M503.11 220.76L525.72 218.42M502.92 222.08L525.39 219.84M502.75 223.39L525.06 221.25M502.62 224.7L524.78 222.62M502.5 226L524.5 224M502.44 227.31L524.28 225.35M502.38 228.61L524.05 226.7M502.37 229.94L523.87 228.04M502.37 231.26L523.69 229.38M502.41 232.59L523.54 230.71M502.45 233.93L523.41 232.03M502.52 235.26L523.29 233.35M502.61 236.59L523.18 234.66M502.72 237.91L523.08 235.96M502.84 239.22L523 237.25M502.97 240.53L522.92 238.53M503.13 241.81L522.84 239.8M503.28 243.09L522.77 241.07M503.45 244.35L522.71 242.32M503.63 245.59L522.64 243.56M503.81 246.8L522.57 244.78M504 248L522.5 246M504.23 249.21L522.44 247.25M504.46 250.41L522.37 248.49M504.75 251.65L522.32 249.78M505.05 252.89L522.27 251.08M505.37 254.13L522.23 252.39M505.71 255.37L522.19 253.69M506.06 256.58L522.16 254.97M506.42 257.78L522.14 256.24M506.77 258.93L522.12 257.47M507.12 260.05L522.1 258.66M507.46 261.12L522.08 259.8M507.78 262.11L522.07 260.86M508.09 263.07L522.05 261.88M508.36 263.91L522.04 262.77M508.61 264.72L522.03 263.64M508.81 265.36L522.01 264.32M509 266L522 265" stroke="#1b2a38" stroke-width="0.9" fill="none"/>
<path d="M513.5 185L513.63 184.48L513.79 183.77L513.97 182.93L514.19 182L514.44 181.04L514.74 180.1L515.09 179.24L515.5 178.5L515.96 177.86L516.48 177.27L517.05 176.71L517.66 176.19L518.31 175.71L519 175.27L519.73 174.86L520.5 174.5L521.32 174.17L522.22 173.88L523.17 173.62L524.16 173.41L525.15 173.23L526.14 173.11L527.09 173.03L528 173L528.88 173.02L529.78 173.09L530.66 173.21L531.53 173.38L532.36 173.59L533.14 173.84L533.86 174.15L534.5 174.5L535.06 174.95L535.57 175.52L536.01 176.17L536.41 176.84L536.75 177.51L537.04 178.12L537.29 178.63L537.5 179" stroke="#1b2a38" stroke-width="1.2" fill="none"/>
<path d="M514.19 182L515.9 184.4M515.5 178.5L518.3 183.8M517.66 176.19L520.7 183.2M520.5 174.5L523.1 182.6M524.16 173.41L525.5 182M528 173L527.9 181.4M531.53 173.38L530.3 180.8M534.5 174.5L532.7 180.2M536.41 176.84L535.1 179.6" stroke="#1b2a38" stroke-width="0.7" fill="none"/>
<clipPath id="hc4"><path d="M522 226.5L533.5 221.5L534.5 243L524.5 262L522 264Z"/></clipPath>
<path d="M522 226.5L533.5 221.5L534.5 243L524.5 262L522 264Z" fill="#fff" stroke="none"/>
<path d="M495.05 229.4L538.6 208.5M496.48 232.38L540.03 211.47M497.91 235.35L541.45 214.45M499.34 238.33L542.88 217.42M500.77 241.3L544.31 220.4M502.19 244.28L545.74 223.37M503.62 247.25L547.17 226.35M505.05 250.23L548.59 229.32M506.48 253.2L550.02 232.3M507.91 256.18L551.45 235.27M509.33 259.15L552.88 238.25M510.76 262.13L554.31 241.22M512.19 265.1L555.73 244.2M513.62 268.08L557.16 247.17M515.05 271.05L558.59 250.15M516.47 274.03L560.02 253.12M517.9 277L561.45 256.1M553.16 217.06L556.05 265.28M549.86 217.26L552.75 265.47M546.57 217.46L549.46 265.67M543.27 217.66L546.17 265.87M539.98 217.85L542.87 266.07M536.69 218.05L539.58 266.26M533.39 218.25L536.28 266.46M530.1 218.45L532.99 266.66M526.8 218.64L529.7 266.86M523.51 218.84L526.4 267.05M520.22 219.04L523.11 267.25M516.92 219.24L519.81 267.45M513.63 219.43L516.52 267.65M510.33 219.63L513.23 267.84M507.04 219.83L509.93 268.04M503.75 220.03L506.64 268.24M500.45 220.22L503.34 268.44" stroke="#1b2a38" stroke-width="1.0" fill="none" clip-path="url(#hc4)"/>
<path d="M480.5 244.5L491 285M495.5 238.5L502 277.5" stroke="#1b2a38" stroke-width="2.0" fill="none"/>
<path d="M481.67 249L496.22 242.83M482.83 253.5L496.94 247.17M484 258L497.67 251.5M485.17 262.5L498.39 255.83M486.33 267L499.11 260.17M487.5 271.5L499.83 264.5M488.67 276L500.56 268.83M489.83 280.5L501.28 273.17" stroke="#1b2a38" stroke-width="1.3" fill="none"/>
<path d="M422.5 281.5L432 302.5M417 284L428 300M428 300L448 291M432 302.5L452 295M436 297L447 300M440 296L452 303" stroke="#1b2a38" stroke-width="1.1" fill="none"/>
<path d="M436 300L448 292L444 298Z" stroke="#1b2a38" stroke-width="0.8" fill="#1b2a38"/>
<path d="M418.76 193.15L378.26 253.15L383.74 256.85L424.24 196.85Z" stroke="none" stroke-width="0" fill="#fff"/>
<path d="M424.24 196.85L383.74 256.85M422.41 195.62L381.91 255.62M420.59 194.38L380.09 254.38M418.76 193.15L378.26 253.15" stroke="#1b2a38" stroke-width="1.15" fill="none"/>
<path d="M424.24 196.85L383.74 256.85M418.76 193.15L378.26 253.15" stroke="#1b2a38" stroke-width="1.6" fill="none"/>
<path d="M383.5 251L378 258L373 261.5L377 262.5L386 256.5Z" stroke="#1b2a38" stroke-width="1" fill="#1b2a38"/>
<path d="M475.72 173.73L416.72 266.23L422.28 269.77L481.28 177.27Z" stroke="none" stroke-width="0" fill="#fff"/>
<path d="M481.28 177.27L422.28 269.77M479.43 176.09L420.43 268.59M477.57 174.91L418.57 267.41M475.72 173.73L416.72 266.23" stroke="#1b2a38" stroke-width="1.15" fill="none"/>
<path d="M481.28 177.27L422.28 269.77M475.72 173.73L416.72 266.23" stroke="#1b2a38" stroke-width="1.6" fill="none"/>
<path d="M304.75 176.25L303.95 177.62L302.82 179.47L301.48 181.69L300.02 184.12L298.54 186.66L297.14 189.15L295.93 191.48L295 193.5L294.34 195.25L293.85 196.86L293.5 198.36L293.25 199.8L293.08 201.19L292.96 202.59L292.86 204.01L292.75 205.5L292.65 207.02L292.61 208.53L292.61 210.04L292.64 211.56L292.7 213.11L292.79 214.69L292.89 216.31L293 218L293.14 219.86L293.32 221.93L293.54 224.1L293.77 226.28L293.99 228.36L294.2 230.25L294.38 231.83L294.5 233L321.5 238L321.57 237.1L321.64 235.94L321.72 234.55L321.83 233L321.97 231.32L322.17 229.56L322.44 227.77L322.8 226L323.25 224.18L323.77 222.26L324.36 220.25L325.01 218.19L325.71 216.1L326.45 214.02L327.21 211.98L328 210L328.88 207.97L329.89 205.83L330.97 203.64L332.07 201.5L333.14 199.48L334.1 197.67L334.91 196.15L335.5 195Z" stroke="none" stroke-width="0" fill="#fff"/>
<path d="M304.75 176.25L301.93 180.95L298.07 187.49L295 193.5L293.62 197.86L293.04 201.66L292.75 205.5L292.61 209.54L292.73 213.63L293 218L293.47 223.38L294.06 228.99L294.5 233" stroke="#1b2a38" stroke-width="2.2" fill="none"/>
<path d="M310.9 180L308.36 184.29L304.87 190.29L301.98 195.97L300.49 200.29L299.72 204.13L299.2 208.04L298.84 212.08L298.75 216.11L298.83 220.31L299.14 225.3L299.58 230.38L299.9 234" stroke="#1b2a38" stroke-width="1.2" fill="none"/>
<path d="M317.05 183.75L314.8 187.64L311.67 193.09L308.96 198.43L307.37 202.72L306.4 206.6L305.66 210.57L305.07 214.63L304.76 218.58L304.67 222.62L304.81 227.23L305.09 231.77L305.3 235" stroke="#1b2a38" stroke-width="1.2" fill="none"/>
<path d="M323.2 187.5L321.23 190.98L318.47 195.9L315.93 200.9L314.25 205.14L313.08 209.08L312.11 213.11L311.31 217.17L310.77 221.05L310.5 224.94L310.48 229.15L310.61 233.16L310.7 236" stroke="#1b2a38" stroke-width="1.2" fill="none"/>
<path d="M329.35 191.25L327.66 194.33L325.27 198.7L322.91 203.36L321.12 207.57L319.77 211.55L318.56 215.65L317.54 219.71L316.79 223.53L316.34 227.25L316.15 231.08L316.13 234.55L316.1 237" stroke="#1b2a38" stroke-width="1.2" fill="none"/>
<path d="M335.5 195L334.1 197.67L332.07 201.5L329.89 205.83L328 210L326.45 214.02L325.01 218.19L323.77 222.26L322.8 226L322.17 229.56L321.83 233L321.64 235.94L321.5 238" stroke="#1b2a38" stroke-width="2.2" fill="none"/>
<path d="M304.75 176.25L335.5 195" stroke="#1b2a38" stroke-width="2.2" fill="none"/>
<path d="M298.07 187.49L332.07 201.5" stroke="#1b2a38" stroke-width="1.2" fill="none"/>
<path d="M293.62 197.86L328 210" stroke="#1b2a38" stroke-width="1.2" fill="none"/>
<path d="M292.75 205.5L325.01 218.19" stroke="#1b2a38" stroke-width="1.2" fill="none"/>
<path d="M292.73 213.63L322.8 226" stroke="#1b2a38" stroke-width="1.2" fill="none"/>
<path d="M293.47 223.38L321.83 233" stroke="#1b2a38" stroke-width="1.2" fill="none"/>
<path d="M294.5 233L321.5 238" stroke="#1b2a38" stroke-width="1.2" fill="none"/>
<path d="M325.4 256.8L345 248.6L344 241L341 239.5L324.6 247.2Z" stroke="none" stroke-width="0" fill="#fff"/>
<path d="M325.4 256.8L345 248.6L344 241L341 239.5L324.6 247.2Z" stroke="#1b2a38" stroke-width="1.8" fill="none"/>
<path d="M339 210L344.5 210L345.5 247L339.5 247Z" stroke="none" stroke-width="0" fill="#fff"/>
<path d="M340.2 210.5L341.6 245M342.8 210.5L344.2 245M341.5 210.5L343 245" stroke="#1b2a38" stroke-width="1.5" fill="none"/>
<path d="M337.4 222.9L339.8 222.9L339.4 247.2L326 256L331 243Z" stroke="#1b2a38" stroke-width="0.8" fill="#1b2a38"/>
<path d="M322 228L340.5 214.5M323 219L340.5 211.5M321.5 235L337 223" stroke="#1b2a38" stroke-width="1.0" fill="none"/>
<path d="M302 226.8L307.2 227.4L321.6 241.8L318.8 243.8Z" stroke="#1b2a38" stroke-width="0.8" fill="#1b2a38"/>
<path d="M295.8 232L294.8 238M294.8 238L299.5 241M299.5 241L301 233.5M301 233.5L295.8 232M297 235L318 244M296 239L319 247.5M299.5 241L325 255M303 230L319 243" stroke="#1b2a38" stroke-width="1.0" fill="none"/>
<path d="M294.5 243.6L319 245.6M294.5 243.6L322 250M294.5 243.6L321 242.5M294.5 243.6L316 240M294.5 243.6L300 238.5" stroke="#1b2a38" stroke-width="0.9" fill="none"/>
<path d="M304.75 176.25L316 174L358 168.8L377.5 180L344.5 191.3L335.5 195Z" stroke="none" stroke-width="0" fill="#fff"/>
<path d="M304.75 176.25L335.5 195M316 174L344.5 191.3M304.75 176.25L316 174M315 182.5L325.5 179.77M325.25 188.75L335 185.53M335.5 195L344.5 191.3" stroke="#1b2a38" stroke-width="1.15" fill="none"/>
<path d="M316 174L344.5 191.3M323 173.13L350 189.42M330 172.27L355.5 187.53M337 171.4L361 185.65M344 170.53L366.5 183.77M351 169.67L372 181.88M358 168.8L377.5 180M316 174L358 168.8M325.5 179.77L364.5 172.53M335 185.53L371 176.27M344.5 191.3L377.5 180" stroke="#1b2a38" stroke-width="1.15" fill="none"/>
<path d="M304.75 176.25L316 174L358 168.8" stroke="#1b2a38" stroke-width="1.9" fill="none"/>
<path d="M335.5 195L344.5 191.3L377.5 180" stroke="#1b2a38" stroke-width="1.6" fill="none"/>
<path d="M335.5 195L344.5 191.3L377.5 180L368.5 210.8L344.5 211.5L340.8 210Z" stroke="none" stroke-width="0" fill="#fff"/>
<path d="M344.5 191.3L344.5 211.5M350 189.42L348.5 211.38M355.5 187.53L352.5 211.27M361 185.65L356.5 211.15M366.5 183.77L360.5 211.03M372 181.88L364.5 210.92M377.5 180L368.5 210.8M344.5 191.3L377.5 180M344.5 196.35L375.25 187.7M344.5 201.4L373 195.4M344.5 206.45L370.75 203.1M344.5 211.5L368.5 210.8" stroke="#1b2a38" stroke-width="1.1" fill="none"/>
<path d="M335.5 195L341 210M335.5 195L344.5 211.5" stroke="#1b2a38" stroke-width="1.1" fill="none"/>
<path d="M358 166.6L363.4 165.32L365.6 164.52L386.66 177.8L376.2 210.5L374 211.5L367 213.2L364.2 211.2L377.4 178.4Z" stroke="none" stroke-width="0" fill="#fff"/>
<path d="M358 166.6L377.4 178.4L367 213.2" stroke="#1b2a38" stroke-width="2.0" fill="none"/>
<path d="M360.2 165.8L379.6 177.6L369.2 212.4" stroke="#1b2a38" stroke-width="1.6" fill="none"/>
<path d="M358 166.6L360.2 165.8M377.4 178.4L379.6 177.6M367 213.2L369.2 212.4M367 213.2L364.2 211.2" stroke="#1b2a38" stroke-width="1.2" fill="none"/>
<path d="M363.4 165.32L384.46 178.4L374 211.5" stroke="#1b2a38" stroke-width="2.0" fill="none"/>
<path d="M365.6 164.52L386.66 177.6L376.2 210.7" stroke="#1b2a38" stroke-width="1.6" fill="none"/>
<path d="M363.4 165.32L365.6 164.52M384.46 178.4L386.66 177.6M374 211.5L376.2 210.7M374 211.5L371.2 209.5" stroke="#1b2a38" stroke-width="1.2" fill="none"/>
<path d="M377.4 178.4L384.46 178.4M367 213.2L374 211.5" stroke="#1b2a38" stroke-width="1.1" fill="none"/>
<path d="M363.5 164.3L436.5 152L452 152L453.8 163L450 186.3L380.8 204.2L386.3 177.5Z" stroke="none" stroke-width="0" fill="#fff"/>
<path d="M363.5 164.3L436.5 152" stroke="#1b2a38" stroke-width="1.3" fill="none"/>
<path d="M369.2 168.9L436 158.7M376 173.4L438 163.2M366.5 166.5L436 155M381 177L442 164.5" stroke="#1b2a38" stroke-width="1.0" fill="none"/>
<path d="M386.3 177.5L453.8 163M386.3 179.3L453.5 164.8" stroke="#1b2a38" stroke-width="1.7" fill="none"/>
<path d="M380.8 204.2L450 186.3M450 186.3L479 178.6" stroke="#1b2a38" stroke-width="1.7" fill="none"/>
<path d="M384.4 198.8L450 183.8M450 183.8L474 177M384.6 196.8L450 181.8" stroke="#1b2a38" stroke-width="1.3" fill="none"/>
<path d="M386.3 181.3L451 177M453.8 163L450 186.3" stroke="#1b2a38" stroke-width="1.1" fill="none"/>
<path d="M386.3 177.5L380.8 204.2" stroke="#1b2a38" stroke-width="1.3" fill="none"/>
<path d="M407.38 174.94L406.29 180.57M410.45 174.26L409.38 179.87M413.53 173.59L412.47 179.16M416.6 172.92L415.56 178.46M419.68 172.25L418.65 177.75M422.75 171.58L421.75 177.04M425.83 170.91L424.84 176.34M428.9 170.24L427.93 175.63M431.98 169.56L431.02 174.93M435.05 168.89L434.11 174.22M438.12 168.22L437.2 173.52M441.2 167.55L440.29 172.81M444.27 166.88L443.39 172.11M447.35 166.21L446.48 171.4M396.5 185.3L395.46 190.51M399.6 184.58L398.57 189.76M402.69 183.85L401.69 189.01M405.79 183.13L404.8 188.26M408.89 182.41L407.92 187.51M411.99 181.69L411.03 186.75M415.09 180.97L414.15 186M418.19 180.25L417.26 185.25M421.29 179.53L420.37 184.5M424.39 178.81L423.49 183.75M427.49 178.09L426.6 182.99M430.59 177.37L429.72 182.24M433.69 176.65L432.83 181.49M436.78 175.92L435.95 180.74M439.88 175.2L439.06 179.99M405.6 178.03L449.69 168.18M393.8 188.42L441.65 177.08" stroke="#aeb6be" stroke-width="0.8" fill="none"/>
<path d="M440 142L454 140L478 141L504 134L528 130L546 138L540 155L544 168L538 173L524 173L514 165L494 169L466 169L454 161.5Z" stroke="none" stroke-width="0" fill="#fff"/>
<path d="M440 142L454 140M454 140L478 141M478 141L504 134M504 134L528 130M528 130L546 138M546 138L540 155M540 155L544 168M544 168L538 173M538 173L524 173M524 173L514 165M514 165L494 169M494 169L466 169M466 169L454 161.5M454 161.5L476 158M476 158L494 155M494 155L515 149M515 149L532 145M532 145L546 138M454 140L466 149M466 149L454 161.5M466 149L478 141M466 149L476 158M478 141L488 147M488 147L476 158M488 147L494 155M488 147L504 134M504 134L494 155M504 134L515 149M528 130L515 149M528 130L532 145M476 158L466 169M476 158L494 169M494 155L494 169M494 155L514 165M515 149L514 165M515 149L524 173M532 145L524 173M532 145L540 155M532 145L538 173M540 155L538 173M515 149L540 155" stroke="#1b2a38" stroke-width="1.35" fill="none"/>
<path d="M452 147L478 141.5M452 150L472 146.5M453 153.5L470 151M453 157L472 155M454 160L476 158" stroke="#1b2a38" stroke-width="1.0" fill="none"/>
<path d="M492 157.5L489.5 165.5M495.2 156.75L492.7 165M498.4 156L495.9 164.5M501.6 155.25L499.1 164M504.8 154.5L502.3 163.5M508 153.75L505.5 163M511.2 153L508.7 162.5M514.4 152.25L511.9 162" stroke="#9aa4ae" stroke-width="0.9" fill="none"/>
<path d="M374.5 112L374.5 151.5L436 151.5" stroke="#7c8aa0" stroke-width="1.0" fill="none" stroke-dasharray="3.8 1.9"/>
<path d="M579.5 86L579.5 161.5" stroke="#7c8aa0" stroke-width="1.0" fill="none" stroke-dasharray="3.8 1.9"/>
<path d="M638.5 86L638.5 129L537.5 183" stroke="#7c8aa0" stroke-width="1.0" fill="none" stroke-dasharray="3.8 1.9"/>
<path d="M558 266L503 270.5" stroke="#7c8aa0" stroke-width="1.0" fill="none" stroke-dasharray="3.8 1.9"/>
<path d="M412 284L413 295.5L672.5 295.5L672.5 338" stroke="#7c8aa0" stroke-width="1.0" fill="none" stroke-dasharray="3.8 1.9"/>
<path d="M596.5 295.5L596.5 338" stroke="#7c8aa0" stroke-width="1.0" fill="none" stroke-dasharray="3.8 1.9"/>
<path d="M183 407L137 268" stroke="#7c8aa0" stroke-width="1.0" fill="none" stroke-dasharray="3.8 1.9"/>
<path d="M191 408L203.5 222" stroke="#7c8aa0" stroke-width="1.0" fill="none" stroke-dasharray="3.8 1.9"/>
<path d="M213 426.5L536 467" stroke="#7c8aa0" stroke-width="1.0" fill="none" stroke-dasharray="3.8 1.9"/>
<path d="M213 431L463 520" stroke="#7c8aa0" stroke-width="1.0" fill="none" stroke-dasharray="3.8 1.9"/>
<circle cx="131.2" cy="258.8" r="14.9" fill="url(#halo)" stroke="none"/>
<circle cx="131.2" cy="258.8" r="11.8" fill="#fff" stroke="none"/>
<circle cx="131.2" cy="258.8" r="7.9" fill="#ab0f10" stroke="none"/>
<circle cx="203.8" cy="210.5" r="14.9" fill="url(#halo)" stroke="none"/>
<circle cx="203.8" cy="210.5" r="11.8" fill="#fff" stroke="none"/>
<circle cx="203.8" cy="210.5" r="7.9" fill="#ab0f10" stroke="none"/>
<circle cx="445.6" cy="151.2" r="14.9" fill="url(#halo)" stroke="none"/>
<circle cx="445.6" cy="151.2" r="11.8" fill="#fff" stroke="none"/>
<circle cx="445.6" cy="151.2" r="7.9" fill="#ab0f10" stroke="none"/>
<circle cx="475.5" cy="217.2" r="14.9" fill="url(#halo)" stroke="none"/>
<circle cx="475.5" cy="217.2" r="11.8" fill="#fff" stroke="none"/>
<circle cx="475.5" cy="217.2" r="7.9" fill="#ab0f10" stroke="none"/>
<circle cx="412" cy="273.5" r="14.9" fill="url(#halo)" stroke="none"/>
<circle cx="412" cy="273.5" r="11.8" fill="#fff" stroke="none"/>
<circle cx="412" cy="273.5" r="7.9" fill="#ab0f10" stroke="none"/>
<circle cx="445" cy="273.7" r="14.9" fill="url(#halo)" stroke="none"/>
<circle cx="445" cy="273.7" r="11.8" fill="#fff" stroke="none"/>
<circle cx="445" cy="273.7" r="7.9" fill="#ab0f10" stroke="none"/>
<circle cx="545.5" cy="468.7" r="14.9" fill="url(#halo)" stroke="none"/>
<circle cx="545.5" cy="468.7" r="11.8" fill="#fff" stroke="none"/>
<circle cx="545.5" cy="468.7" r="7.9" fill="#ab0f10" stroke="none"/>
<circle cx="473" cy="524.5" r="14.9" fill="url(#halo)" stroke="none"/>
<circle cx="473" cy="524.5" r="11.8" fill="#fff" stroke="none"/>
<circle cx="473" cy="524.5" r="7.9" fill="#ab0f10" stroke="none"/>
<g filter="url(#soft)" stroke="none">
<path d="M340.2 93.2a2.5 1.8 0 1 0 4.6 1.2l3 0.4 2.6 1.4" fill="none" stroke="#8f8f8f" stroke-width="1.1"/>
<path d="M350.2 96l3.6 1.6" stroke="#8a8a8a" stroke-width="1.6"/>
<path d="M354.6 80.8l-1.4 5.6 -0.8 6.6 1.2 5.4 2.4 1 0.2-6 0.8-6.4 1.6-5.4z" fill="#a3a7a6"/>
<path d="M354 84.5l2.4 0.8M353.4 88l2.4 0.8M353 91.5l2.4 0.8M353.2 95l2.4 0.8" stroke="#7d8180" stroke-width="0.7"/>
<ellipse cx="379" cy="100.2" rx="21.6" ry="10" fill="url(#gBase)"/>
<ellipse cx="379" cy="95.4" rx="21.4" ry="9.2" fill="#1f2022"/>
<path d="M357.8 97.2a21.4 9 0 0 0 42.6 0" fill="none" stroke="#48494b" stroke-width="1.1"/>
<path d="M354 80.6l7-3.6 36.4 0.6 9.4 6 -2.2 4.2 -13.4 5 -23-0.6 -9.4-5z" fill="url(#gFl)"/>
<path d="M354.2 80.8l6.8-3.6 36.4 0.6 9.2 5.8" fill="none" stroke="#aeb2b1" stroke-width="0.8"/>
<path d="M363.5 74.5v9.5a16 7 0 0 0 32 0v-9.5z" fill="url(#gCyl)"/>
<ellipse cx="379.5" cy="74.5" rx="16" ry="8" fill="#b5b9b8"/>
</g>
<g stroke="none">
<rect x="553.2" y="42.7" width="45.8" height="30.9" rx="1.8" fill="#131316"/>
<rect x="557.2" y="46.4" width="38" height="23.4" fill="url(#gScr)"/>
<rect x="557.6" y="67.2" width="37.2" height="2" fill="#2e4f93" opacity="0.9"/>
<path d="M562 60.6a4.8 4.8 0 1 1 6.6-0.4" fill="none" stroke="#3c63b0" stroke-width="1.4" opacity="0.7"/>
<path d="M584.2 60.2a4.8 4.8 0 1 1 6.6 0.4" fill="none" stroke="#3c63b0" stroke-width="1.4" opacity="0.7"/>
<rect x="563.4" y="56.2" width="3" height="1.7" fill="#6f8fc8"/><rect x="586.4" y="56.2" width="3" height="1.7" fill="#6f8fc8"/>
<circle cx="576.2" cy="59" r="7" fill="url(#gGauge)"/>
<rect x="574.4" y="58.1" width="3.6" height="1.9" rx="0.6" fill="#c8ffe9"/>
<rect x="572" y="48.3" width="8" height="0.9" fill="#5f7fb8" opacity="0.8"/>
<rect x="551.3" y="58.6" width="1.8" height="0.7" fill="#aaa"/>
</g>
<g stroke="none" filter="url(#soft)">
<path d="M643.3 43.2l10.6 1.6v26.5l-10.6 3.2z" fill="#d9d9d5"/>
<path d="M624.6 44.6l18.7-1.4v31.3l-18.7-1.9z" fill="url(#gPrF)"/>
<path d="M624.6 44.6l18.7-1.4 10.6 1.6" fill="none" stroke="#f6f6f4" stroke-width="0.8"/>
<path d="M643.3 43.2v31.3" stroke="#c9c9c5" stroke-width="0.9"/>
<path d="M626.6 49.8l14.8-0.6" stroke="#a9a9a6" stroke-width="0.9"/>
<path d="M626.2 47.2l15.4-0.8" stroke="#cfcfcb" stroke-width="0.6"/>
<path d="M625.2 66.9l17.6 0.9M625.2 69.1l17.6 1" stroke="#b5b5b1" stroke-width="0.7"/>
<rect x="640.6" y="46.2" width="1.3" height="2.2" fill="#9a9a97"/>
<rect x="640.8" y="54.2" width="1" height="1.4" fill="#a5a5a2"/>
<path d="M648.2 60.8l1.7 0.2v7.3l-1.7 0.4z" fill="#6f6f6c"/>
<path d="M646.3 60.4v11.8" stroke="#c4c4c0" stroke-width="0.6"/>
<rect x="622.4" y="58.6" width="1.8" height="0.7" fill="#aaa"/>
</g>
<g stroke="none" filter="url(#soft)">
<path d="M585.8 222l5.2-6.5 22.7-26 7.8 0.7 27.2 14.2 5.8 4.6-0.6 3.9-23.3 34.3-5.9 1.3-36.9-22z" fill="#1b1b1d"/>
<path d="M587.8 226.5l36.9 22 5.9-1.3 23.3-34.3" fill="none" stroke="#38383a" stroke-width="1"/>
<path d="M589.5 221.5l34.8 20.5 4.6-1 21.4-31" fill="none" stroke="#2d2d30" stroke-width="2.2"/>
<path d="M594.8 222.8l6.2 3.7-1.2 2.2-6.2-3.7zM605 228.8l6.4 3.8-1.2 2.2-6.4-3.8zM615.4 234.8l6.6 3.9-1.2 2.2-6.6-3.9z" fill="#58585b"/>
<path d="M594.7 212.5l17-19.8" stroke="#b9a43a" stroke-width="1.1" fill="none"/>
<path d="M616 190.5l3.2 1.5-1 1.5 3.2 1.6 1-1.4 3.4 1.7-1 1.5 3.3 1.7 1-1.4 3.4 1.7-1 1.6 3.3 1.7 2.5 4.4-24-12.5z" fill="#0f0f11"/>
<path d="M597.5 212.2l16.9-19.4 26.5 14.2v3.3l-13.6 19.4-2.6 0z" fill="#c9cac8"/>
<path d="M598.1 214.2l26.6 15.5 2.6 0 13.6-19.4" fill="none" stroke="#c23a3a" stroke-width="1.2"/>
<path d="M599.8 211.8l14.8-17 23.6 12.7-13.2 18.6z" fill="#d5d6d3"/>
<path d="M611 209l6-7.5 8.5 4.6-5.6 8z" fill="#d6b062"/>
<path d="M614 209.3l3.6-4.6M617.8 211.4l3.4-4.8" stroke="#b07a22" stroke-width="0.8"/>
<path d="M606.5 204l3.5-4.4" stroke="#d94a3f" stroke-width="1.6"/>
<path d="M609.8 199.2l2.2-2.8" stroke="#3f7fd6" stroke-width="1.4"/>
<path d="M625.6 203.6l1-4.4" stroke="#d94a3f" stroke-width="1.5"/>
<path d="M628.8 204.8l0.8-3.4" stroke="#3f7fd6" stroke-width="1.3"/>
<path d="M626 212.6l7 3.6" stroke="#3fae4f" stroke-width="1.5"/>
<path d="M609 219.5l5.5 3.2" stroke="#3fae4f" stroke-width="1.3"/>
<path d="M617.5 223.8l5.5 3" stroke="#3f7fd6" stroke-width="1.3"/>
<path d="M603 214.5l4 2.4" stroke="#d94a3f" stroke-width="1.2"/>
<rect x="642.6" y="214.4" width="3.3" height="3.3" fill="#e9e9e9" transform="rotate(28 644.2 216)"/>
<rect x="636.1" y="225.4" width="3.3" height="3.3" fill="#e9e9e9" transform="rotate(28 637.7 227)"/>
<rect x="632.4" y="232" width="3" height="3" fill="#dedede" transform="rotate(28 633.9 233.5)"/>
<path d="M625.4 187v4" stroke="#555" stroke-width="0.6"/>
</g>
<g stroke="none" filter="url(#soft)">
<path d="M530.7 297.8v4.4" stroke="#667" stroke-width="0.6"/>
<path d="M526.2 303.6c0-1.5 1.8-2 4.6-2s4.7 0.5 4.7 2l-0.2 5 -0.6 3.6 -0.5 5.2 -0.2 5.2 0.2 5.4h-5.8l-0.2-5.6 -0.6-5.2 -0.9-5.4 -0.5-3.2z" fill="#19191b"/>
<circle cx="528.4" cy="303.5" r="1" fill="#e24a3a"/><circle cx="531.5" cy="303.4" r="1" fill="#3fbf5a"/><circle cx="534.2" cy="303.6" r="0.8" fill="#d8743a"/>
<path d="M528.3 327.6h5.9l3.2 5.4 0.4 3.4h-13.6l0.5-3.4z" fill="#151517"/>
<path d="M523.4 335.2h15l0.4 2.2h-15.8z" fill="#242426"/>
<path d="M522.6 337.2h15.8v11.2a7.9 2.6 0 0 1-15.8 0z" fill="url(#gSil)"/>
<path d="M522.6 337.4h15.8" stroke="#77777a" stroke-width="0.7"/>
</g>
<g stroke="none" filter="url(#soft)"><path d="M575.5 348.8L595 353.6L585.2 377.4L565.5 368.6Z" fill="#19191b" stroke="#19191b" stroke-width="1.6" stroke-linejoin="round"/><path d="M576.3 350.8L579.0 351.5L577.6 354.3L574.9 353.5Z" fill="#47484c"/><path d="M574.2 355.0L576.9 355.8L575.5 358.6L572.8 357.7Z" fill="#47484c"/><path d="M572.1 359.2L574.8 360.2L573.4 363.0L570.7 361.9Z" fill="#47484c"/><path d="M570.0 363.5L572.7 364.5L571.4 367.3L568.6 366.2Z" fill="#47484c"/><path d="M580.4 351.9L583.1 352.6L581.7 355.5L579.0 354.7Z" fill="#47484c"/><path d="M578.3 356.3L581.0 357.1L579.7 360.0L576.9 359.1Z" fill="#47484c"/><path d="M576.2 360.7L578.9 361.6L577.6 364.5L574.8 363.5Z" fill="#47484c"/><path d="M574.1 365.1L576.8 366.1L575.5 369.0L572.8 367.9Z" fill="#47484c"/><path d="M584.5 352.9L587.2 353.7L585.8 356.7L583.1 355.9Z" fill="#47484c"/><path d="M582.4 357.5L585.1 358.3L583.8 361.4L581.0 360.5Z" fill="#47484c"/><path d="M580.3 362.1L583.0 363.0L581.7 366.0L579.0 365.0Z" fill="#47484c"/><path d="M578.2 366.7L580.9 367.7L579.6 370.7L576.9 369.6Z" fill="#47484c"/><path d="M588.6 354.0L591.3 354.7L589.9 357.8L587.2 357.1Z" fill="#47484c"/><path d="M586.5 358.8L589.2 359.6L587.9 362.7L585.2 361.8Z" fill="#47484c"/><path d="M584.4 363.5L587.1 364.5L585.8 367.6L583.1 366.6Z" fill="#47484c"/><path d="M582.3 368.3L585.1 369.3L583.7 372.5L581.0 371.3Z" fill="#47484c"/><path d="M565.5 368.6l19.7 8.8 0 1.8-19.9-8.9z" fill="#0c0c0d"/><path d="M596.3 353L616.3 348L630 368.8L607.5 378.6Z" fill="#19191b" stroke="#19191b" stroke-width="1.6" stroke-linejoin="round"/><path d="M598.8 354.6L601.6 353.9L603.2 357.2L600.3 358.0Z" fill="#37a246"/><path d="M601.2 359.9L604.1 359.0L605.7 362.3L602.7 363.3Z" fill="#37a246"/><path d="M603.6 365.2L606.5 364.2L608.1 367.5L605.1 368.6Z" fill="#c8443a"/><path d="M606.0 370.5L609.0 369.3L610.6 372.6L607.5 373.9Z" fill="#37a246"/><path d="M603.1 353.5L605.9 352.7L607.5 355.9L604.7 356.7Z" fill="#37a246"/><path d="M605.6 358.6L608.4 357.7L610.1 360.8L607.2 361.8Z" fill="#37a246"/><path d="M608.1 363.7L611.0 362.6L612.7 365.8L609.7 366.9Z" fill="#37a246"/><path d="M610.6 368.7L613.6 367.6L615.2 370.7L612.2 372.0Z" fill="#37a246"/><path d="M607.3 352.4L610.1 351.6L611.8 354.6L609.0 355.5Z" fill="#37a246"/><path d="M609.9 357.2L612.8 356.3L614.5 359.4L611.6 360.3Z" fill="#37a246"/><path d="M612.5 362.1L615.5 361.1L617.2 364.1L614.2 365.2Z" fill="#37a246"/><path d="M615.1 367.0L618.2 365.8L619.9 368.8L616.8 370.1Z" fill="#37a246"/><path d="M611.5 351.2L614.3 350.5L616.1 353.4L613.3 354.2Z" fill="#37a246"/><path d="M614.3 355.9L617.1 355.0L618.9 357.9L616.0 358.9Z" fill="#37a246"/><path d="M617.0 360.5L619.9 359.5L621.7 362.4L618.7 363.5Z" fill="#37a246"/><path d="M619.7 365.2L622.7 364.0L624.5 366.9L621.5 368.2Z" fill="#37a246"/><path d="M607.5 378.6l22.5-9.8 0.2 1.7-22.3 9.9z" fill="#0c0c0d"/><path d="M590.5 366L598.8 362.6L606.3 378.8L594 383Z" fill="#19191b" stroke="#19191b" stroke-width="1.6" stroke-linejoin="round"/><path d="M591.5 367.1L593.9 366.1L594.7 369.1L592.2 370.1Z" fill="#47484c"/><path d="M592.5 371.8L595.2 370.8L596.1 373.8L593.2 374.9Z" fill="#47484c"/><path d="M593.6 376.6L596.6 375.5L597.5 378.5L594.3 379.6Z" fill="#47484c"/><path d="M595.1 365.6L597.5 364.7L598.7 367.6L596.1 368.6Z" fill="#47484c"/><path d="M596.6 370.3L599.3 369.3L600.5 372.2L597.6 373.3Z" fill="#47484c"/><path d="M598.2 374.9L601.2 373.8L602.4 376.8L599.2 377.9Z" fill="#47484c"/><path d="M594 383l12.3-4.2 0.2 1.6-12.2 4.3z" fill="#0c0c0d"/></g>
<g stroke="none" filter="url(#soft)">
<path d="M647 356.3l35.5-12.5 6.3 1.2 12.5 20-1.3 5-40 12.5-5 0-8.8-15z" fill="#1a1a1c"/>
<path d="M649.2 356.6l33.6-11.6 4.6 0.8 10.6 17.2-36.4 11.4z" fill="#252527"/>
<path d="M649.6 356.4l33-11.4 4.4 0.8" fill="none" stroke="#c9a227" stroke-width="0.9"/>
<path d="M649.6 356.4l4.6 9.4" fill="none" stroke="#c9a227" stroke-width="0.9"/>
<path d="M655.5 355.8l12.6-4.3 4.4 7.2-12.8 4.2zM671 350.5l12-4 4.6 7.2-12.2 4z" fill="#0e0e10"/>
<path d="M657.3 356.2l10-3.4 2.8 4.8-10 3.3zM672.8 351l9.4-3.1 3 4.8-9.6 3.1z" fill="#3a3a3d"/>
<path d="M654.2 365.8l7.4 8.6 36.4-11.4" fill="none" stroke="#3c3c3f" stroke-width="0.8"/>
<path d="M666 375.4l26-8.2" stroke="#77777a" stroke-width="1.4" stroke-dasharray="0.9 1.3"/>
<circle cx="653.6" cy="360.6" r="0.7" fill="#49a0e8"/><circle cx="654.6" cy="362.8" r="0.7" fill="#49a0e8"/><circle cx="655.6" cy="364.8" r="0.7" fill="#49a0e8"/>
<path d="M646.3 367.5l2.4-1.2 2 4.5-1.5 1.7z" fill="#101012"/>
</g>
<g stroke="none" filter="url(#soft)">
<path d="M164.2 438.8c3 0.6 6.5-0.6 9.6-2" fill="none" stroke="#151515" stroke-width="1.3"/>
<path d="M172.6 435.8l3.2-1.6 1.2 2.4-3.2 1.7z" fill="#b9b9b2"/>
<path d="M177 446l5-3.5 6.6 3.2 0.2 6.6a5.6 5.2 0 0 1-11.4 2.4z" fill="url(#gRingB)"/>
<circle cx="182.2" cy="452.2" r="2.5" fill="#fff"/>
<ellipse cx="187.6" cy="433.6" rx="13.4" ry="13.8" fill="url(#gRingB)" transform="rotate(-25 187.6 433.6)"/>
<ellipse cx="193.4" cy="427.2" rx="14.6" ry="14.4" fill="url(#gRing)"/>
<ellipse cx="193.4" cy="427.2" rx="14.2" ry="14" fill="none" stroke="#6f6e63" stroke-width="0.9"/><ellipse cx="193.6" cy="427.2" rx="11.6" ry="11.2" fill="none" stroke="#6a695e" stroke-width="1.3"/><ellipse cx="193.8" cy="427.2" rx="10.2" ry="9.6" fill="none" stroke="#cfcec3" stroke-width="1"/>
<ellipse cx="194.2" cy="427" rx="9" ry="8.2" fill="url(#gHole)"/>
<ellipse cx="191.8" cy="430.6" rx="5.2" ry="4.2" fill="#fff" transform="rotate(-20 191.8 430.6)"/>
<ellipse cx="194.2" cy="427" rx="9" ry="8.2" fill="none" stroke="#d9d8cf" stroke-width="0.9"/>
</g>
<text x="325.2" y="54.2" font-size="15" font-family="'Liberation Sans', 'Noto Sans CJK SC', sans-serif" fill="#3a3a3a" stroke="none">长度角度传感器</text>
<text x="556.7" y="34.3" font-size="15" font-family="'Liberation Sans', 'Noto Sans CJK SC', sans-serif" fill="#3a3a3a" stroke="none">显示器</text>
<text x="617.5" y="34.3" font-size="15" font-family="'Liberation Sans', 'Noto Sans CJK SC', sans-serif" fill="#3a3a3a" stroke="none">打印机</text>
<text x="565.4" y="270.2" font-size="15" font-family="'Liberation Sans', 'Noto Sans CJK SC', sans-serif" fill="#3a3a3a" stroke="none">智能电源管理模块</text>
<text x="514.6" y="372.8" font-size="15" font-family="'Liberation Sans', 'Noto Sans CJK SC', sans-serif" fill="#3a3a3a" stroke="none">手柄</text>
<text x="566.5" y="409.2" font-size="15" font-family="'Liberation Sans', 'Noto Sans CJK SC', sans-serif" fill="#3a3a3a" stroke="none">按键面板</text>
<text x="650.4" y="409.2" font-size="15" font-family="'Liberation Sans', 'Noto Sans CJK SC', sans-serif" fill="#3a3a3a" stroke="none">控制器</text>
<text x="152.3" y="478.6" font-size="15" font-family="'Liberation Sans', 'Noto Sans CJK SC', sans-serif" fill="#3a3a3a" stroke="none">称重传感器</text>
</svg>
</body></html>
